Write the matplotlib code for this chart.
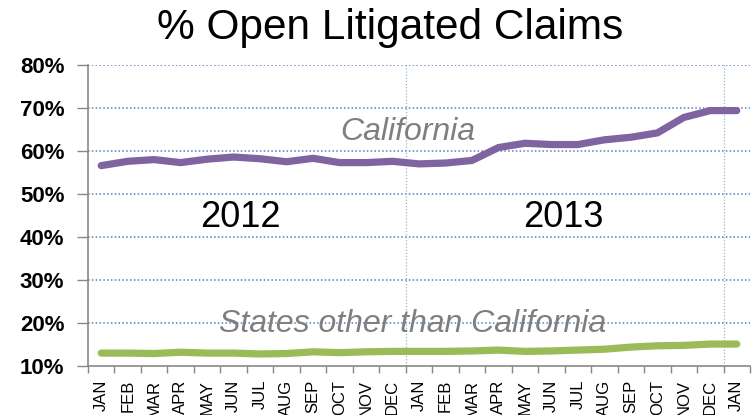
import matplotlib
matplotlib.use("Agg")
import matplotlib.pyplot as plt
from matplotlib.ticker import FixedLocator, FuncFormatter

plt.rcParams['font.family'] = ['Liberation Sans', 'DejaVu Sans']

months = ["JAN", "FEB", "MAR", "APR", "MAY", "JUN", "JUL", "AUG", "SEP", "OCT", "NOV", "DEC",
          "JAN", "FEB", "MAR", "APR", "MAY", "JUN", "JUL", "AUG", "SEP", "OCT", "NOV", "DEC", "JAN"]
california = [56.6, 57.6, 58.0, 57.3, 58.1, 58.6, 58.2, 57.5, 58.3, 57.3, 57.3, 57.6,
              57.0, 57.2, 57.8, 60.8, 61.8, 61.5, 61.5, 62.6, 63.2, 64.2, 67.8, 69.4, 69.4]
other_states = [13.0, 13.0, 12.9, 13.2, 13.0, 13.0, 12.8, 12.9, 13.3, 13.1, 13.3, 13.4,
                13.4, 13.4, 13.5, 13.7, 13.4, 13.5, 13.7, 13.9, 14.4, 14.7, 14.8, 15.1, 15.1]
y_ticks = [10, 20, 30, 40, 50, 60, 70, 80]
year_labels = ["2012", "2013"]
series_labels = ["California", "States other than California"]
title = "% Open Litigated Claims"

W, H = 755, 415
fig = plt.figure(figsize=(W / 100, H / 100), dpi=100)
ax = fig.add_axes([88 / W, (H - 366) / H, (750 - 88) / W, (366 - 65) / H])

x = list(range(len(months)))
ax.plot(x, california, color="#8064A2", lw=5.2, solid_capstyle="round", solid_joinstyle="round", zorder=3)
ax.plot(x, other_states, color="#9BBB59", lw=5.2, solid_capstyle="round", solid_joinstyle="round", zorder=3)

ax.set_xlim(-0.5, len(months) - 0.5)
ax.set_ylim(10, 80)

# y axis
ax.yaxis.set_major_locator(FixedLocator(y_ticks))
ax.yaxis.set_major_formatter(FuncFormatter(lambda v, p: f"{int(v)}%"))
ax.tick_params(axis="y", which="major", length=8, width=1, color="#888888", pad=9,
               labelsize=16)
for lab in ax.yaxis.get_ticklabels():
    lab.set_fontweight("bold")

# x axis: labels at centers, ticks at boundaries
ax.xaxis.set_major_locator(FixedLocator(x))
ax.set_xticklabels(months, rotation=90, fontsize=12, va="top")
ax.tick_params(axis="x", which="major", length=0, pad=10)
ax.xaxis.set_minor_locator(FixedLocator([i - 0.5 for i in range(len(months) + 1)]))
ax.tick_params(axis="x", which="minor", length=5, width=1, color="#888888")

# grids
for yv in y_ticks[1:]:
    ax.axhline(yv, color="#4F81BD", lw=1.1, ls=(0, (1, 1.5)), zorder=1)
for xv in [11.5, 23.5]:
    ax.axvline(xv, color="#95B3D7", lw=0.9, ls=(0, (1, 1.5)), zorder=1)

for s in ["top", "right"]:
    ax.spines[s].set_visible(False)
for s in ["left", "bottom"]:
    ax.spines[s].set_color("#888888")
    ax.spines[s].set_linewidth(1.2)

# annotations
ax.text(5.24, 42.4, year_labels[0], fontsize=26, ha="center", va="baseline", color="black")
ax.text(17.44, 42.4, year_labels[1], fontsize=26, ha="center", va="baseline", color="black")
ax.text(11.58, 62.6, series_labels[0], fontsize=23, style="italic", ha="center",
        va="baseline", color="#7F7F7F", zorder=4)
ax.text(11.75, 18.0, series_labels[1], fontsize=23, style="italic", ha="center",
        va="baseline", color="#7F7F7F", zorder=4)

fig.text(390 / W, 1 - 39 / H, title, fontsize=30.5, ha="center", va="baseline", color="black")

fig.savefig("out.png", dpi=100)
